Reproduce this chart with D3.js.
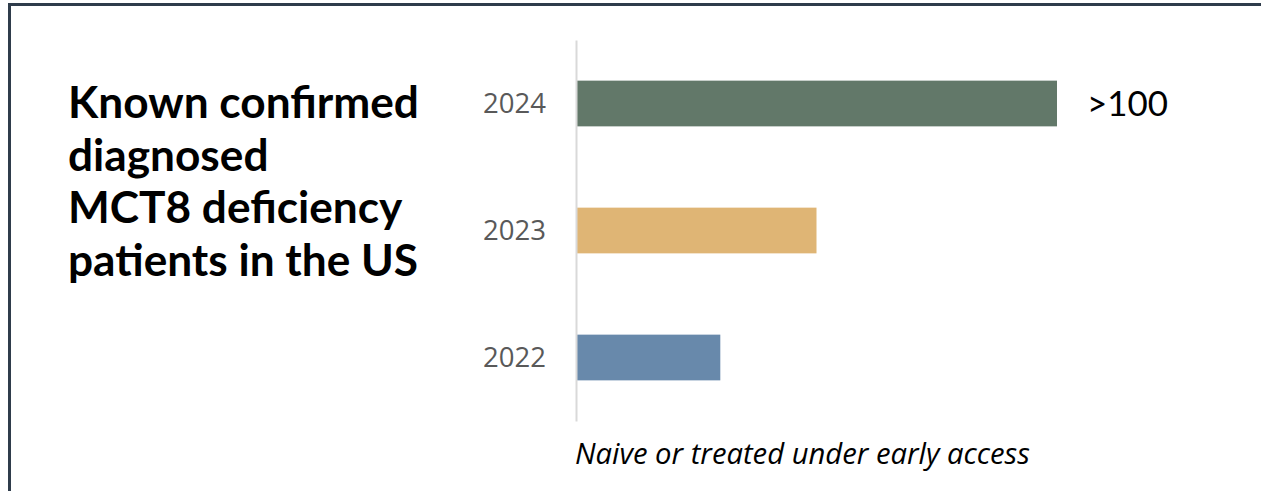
<!DOCTYPE html>
<html><head><meta charset="utf-8">
<script src="https://cdn.jsdelivr.net/npm/d3@7"></script>
<style>html,body{margin:0;padding:0;background:#fff;overflow:hidden}</style>
</head><body><svg id="c" width="1261" height="491"></svg>
<script>
const years = ["2024", "2023", "2022"];
const patients = [100, 50, 30];
const valueLabels = [">100", "", ""];
const barColors = ["#627869", "#dfb575", "#6889ab"];
const titleLines = ["Known confirmed", "diagnosed", "MCT8 deficiency", "patients in the US"];
const footnote = "Naive or treated under early access";

const svg = d3.select("#c");

// frame
svg.append("path").attr("d", "M9.5,491 L9.5,4.5 L1261,4.5")
  .attr("fill", "none").attr("stroke", "#2f3c4b").attr("stroke-width", 3);

function fit(sel, target) {
  sel.attr("font-size", 100);
  const w = sel.node().getComputedTextLength();
  sel.attr("font-size", 100 * target / w);
}

// title
const title = svg.append("g");
titleLines.forEach((t, i) => {
  const tx = title.append("text").attr("x", 68).attr("y", 118 + 52.5 * i)
    .attr("font-family", "Lato").attr("font-weight", "bold").attr("fill", "#000").text(t);
  if (i === 0) fit(tx, 351);
});
const tsize = title.select("text").attr("font-size");
title.selectAll("text").attr("font-size", tsize);

const x0 = 576;
const x = d3.scaleLinear().domain([0, 100]).range([x0, 1057]);
const y = d3.scaleBand().domain(years).range([40, 421]).paddingInner(0.64).paddingOuter(0.32);

svg.selectAll("rect.bar").data(years).join("rect").attr("class", "bar")
  .attr("x", x(0)).attr("y", d => y(d))
  .attr("width", (d, i) => x(patients[i]) - x(0))
  .attr("height", y.bandwidth())
  .attr("fill", (d, i) => barColors[i]);

// axis
const yAxis = d3.axisLeft(y).tickSize(0).tickPadding(30);
const ag = svg.append("g").attr("transform", `translate(${x0},0)`).call(yAxis);
ag.select(".domain").attr("stroke", "#d9d9d9").attr("stroke-width", 2);
ag.selectAll(".tick text").attr("font-family", "Open Sans").attr("font-size", 27)
  .attr("fill", "#595959").attr("dy", "0.36em");
const tk = ag.select(".tick text");
tk.attr("font-size", 100);
const ts = 100 * 63 / tk.node().getComputedTextLength();
ag.selectAll(".tick text").attr("font-size", ts);

// value labels
years.forEach((d, i) => {
  if (!valueLabels[i]) return;
  const t = svg.append("text").attr("x", x(patients[i]) + 30).attr("y", y(d) + y.bandwidth() / 2)
    .attr("dy", "0.36em").attr("font-family", "Lato").attr("fill", "#000").text(valueLabels[i]);
  fit(t, 81);
});

// footnote
const fn = svg.append("text").attr("x", 575).attr("y", 464)
  .attr("font-family", "Open Sans").attr("font-style", "italic").attr("fill", "#000").text(footnote);
fit(fn, 455);
</script></body></html>
